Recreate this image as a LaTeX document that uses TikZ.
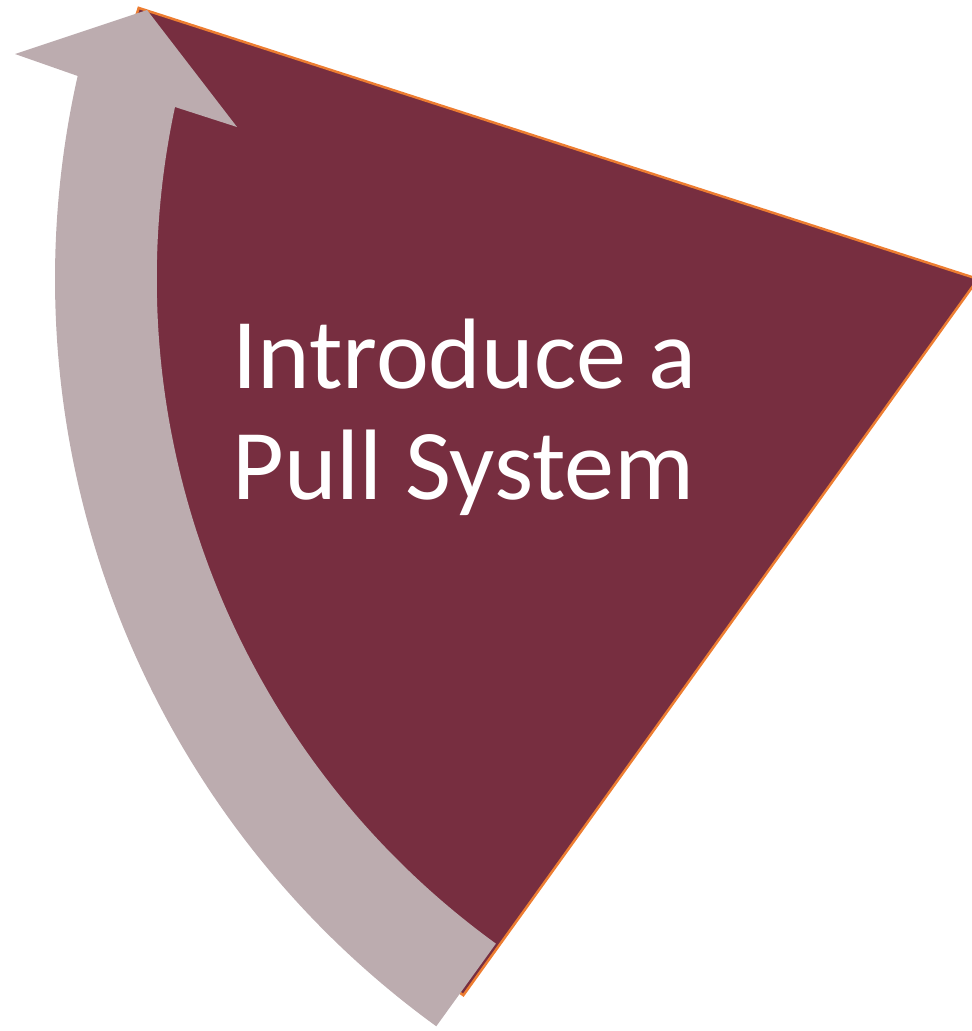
\documentclass[tikz,border=0pt]{standalone}
\usepackage{fontspec}
\setmainfont{Carlito}
\definecolor{wedgered}{RGB}{119,46,64}
\definecolor{arrowgrey}{RGB}{188,172,175}
\definecolor{edgeorange}{RGB}{237,125,49}

\begin{document}
\begin{tikzpicture}[x=0.02cm, y=0.02cm,
    wedge/.style={fill=wedgered, draw=edgeorange, line width=1.4pt},
    bend arrow/.style={fill=arrowgrey},
    slice text/.style={text=white, font=\fontsize{57}{63}\selectfont, align=left, inner sep=0pt}]
    \useasboundingbox (0,0) rectangle (971,-1031);
    \coordinate (c) at (978,-279);
    % the slice
    \path[wedge] (c) -- ++(162.1:882) arc[start angle=162.1, end angle=234.3, radius=882] -- cycle;
    % curved arrow round the rim
    \path[bend arrow] (c) ++(234.06:923) arc[start angle=234.06, end angle=167.29, radius=923]
        -- (15,-54) -- (147,-10) -- (237,-127) -- (175,-107)
        arc[start angle=167.91, end angle=234.06, radius=821] -- cycle;
    \node[slice text, anchor=base west] (title) at (232,-499) {Introduce a\\Pull System};
\end{tikzpicture}
\end{document}
